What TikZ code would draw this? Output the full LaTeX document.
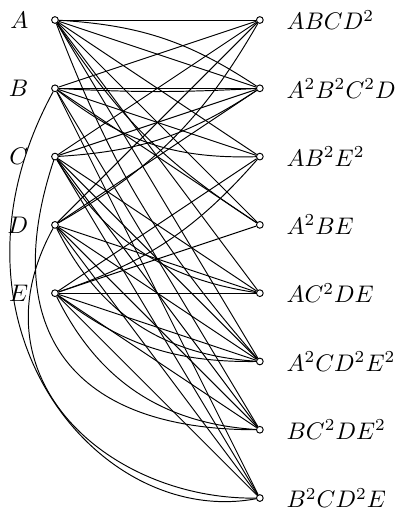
\documentclass[tikz,border=0pt]{standalone}
\usepackage{tikz}

\tikzset{
  vtx/.style={circle,draw,fill=white,inner sep=0pt,minimum size=2.8pt},
  lab/.style={label distance=6pt}
}

\begin{document}
\begin{tikzpicture}[scale=1]
    \useasboundingbox (-0.805,0.293) rectangle (4.98,-7.263);

    % Define the variables on the left
    \foreach \v [count=\i from 0] in {A,B,C,D,E}
        \node[vtx,label={[lab]left:$\v$}] (\v) at (0,-\i) {};

    % Define the monomials on the right
    \foreach \m/\t [count=\j from 0] in {m1/ABCD^2, m2/A^2B^2C^2D, m3/AB^2E^2, m4/A^2BE,
        m5/AC^2DE, m6/A^2CD^2E^2, m7/BC^2DE^2, m8/B^2CD^2E}
        \node[vtx,label={[lab]right:$\t$}] (\m) at (3,-\j) {};

    % One straight edge for every variable of a monomial
    \foreach \m/\vs in {m1/{A,B,C,D}, m2/{A,B,C,D}, m3/{A,B,E}, m4/{A,B,E},
        m5/{A,C,D,E}, m6/{A,C,D,E}, m7/{B,C,D,E}, m8/{B,C,D,E}}
        \foreach \v in \vs
            \draw (\v) -- (\m);

    % A second, bent edge for every squared variable
    \draw (D) to[bend right=15] (m1);
    \draw (A) to[bend left=15] (m2);
    \draw (B) to[bend right=3] (m2);
    \draw (C) to[bend right=15] (m2);
    \draw (B) to[bend right=20] (m3);
    \draw (E) to[bend right=15] (m3);
    \draw (A) to[bend right=12] (m4);
    \draw (C) to[bend right=25] (m5);
    \draw (A) to[bend right=10] (m6);
    \draw (D) to[bend right=30] (m6);
    \draw (E) to[bend right=19] (m6);
    \draw (C) .. controls +(-0.8,-2.4) and +(-2.9,0) .. (m7);
    \draw (E) to[bend right=30] (m7);
    \draw (B) .. controls +(-1.85,-3.4) and +(-2.4,-0.45) .. (m8);
    \draw (D) .. controls +(-1.25,-2.27) and +(-2.17,-0.03) .. (m8);

\end{tikzpicture}
\end{document}
